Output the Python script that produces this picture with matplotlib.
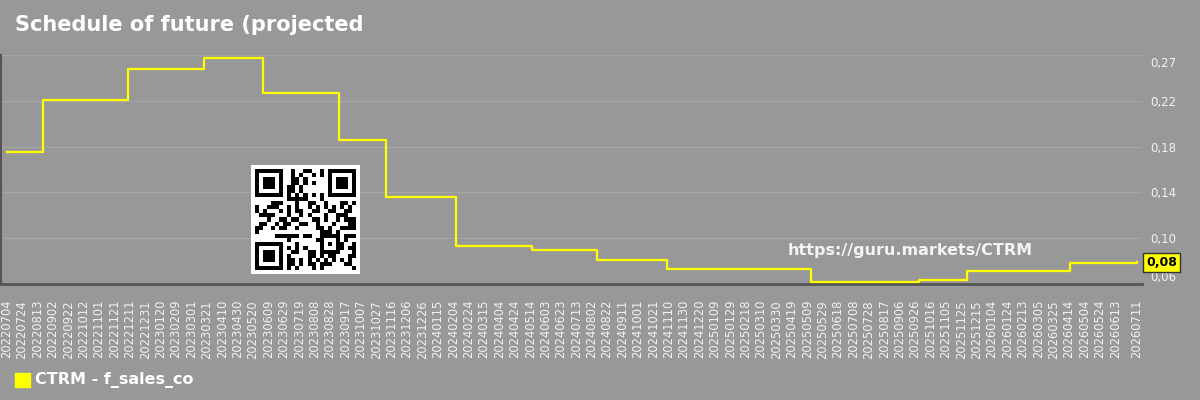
import numpy as np
import matplotlib
matplotlib.use("Agg")
import matplotlib.pyplot as plt
import matplotlib.transforms as mtransforms
from matplotlib.patches import Rectangle
import datetime as dt

# ---- data ----
step_dates = ["2022-07-04", "2022-08-20", "2022-12-09", "2023-03-17", "2023-06-02",
              "2023-09-09", "2023-11-09", "2024-02-08", "2024-05-16", "2024-08-09",
              "2024-11-08", "2025-05-14", "2025-10-01", "2025-12-03", "2026-04-16",
              "2026-06-03", "2026-07-11"]
step_values = [0.1763, 0.2242, 0.2527, 0.2625, 0.2309,
               0.1873, 0.1356, 0.0906, 0.0864, 0.0772,
               0.0690, 0.0576, 0.0592, 0.0677, 0.0745,
               0.0752, 0.0755]
y_tick_labels = ["0,06", "0,10", "0,14", "0,18", "0,22", "0,27"]
last_label = "0,08"
series_name = "CTRM - f_sales_co"
title = "Schedule of future (projected"
watermark = "https://guru.markets/CTRM"
y_min, y_max = 0.0555, 0.2655

BG = "#989898"
YEL = "#ffff00"

dates = [dt.datetime.strptime(d, "%Y-%m-%d") for d in step_dates]
start, end = dates[0], dates[-1]
tick_dates = []
d = start
while d < end - dt.timedelta(days=20):
    tick_dates.append(d)
    d += dt.timedelta(days=20)
tick_dates.append(end)

fig = plt.figure(figsize=(12, 4), dpi=100, facecolor=BG)
ax = fig.add_axes([1/1200, 1-284/400, 1141/1200, 229/400])
ax.set_facecolor(BG)

ax.step(dates, step_values, where="post", color=YEL, lw=1.6, zorder=3)

ax.set_xlim(start - dt.timedelta(days=7.4), end + dt.timedelta(days=6.9))
ax.set_ylim(y_min, y_max)

yt = np.linspace(y_min, y_max, len(y_tick_labels))
ax.set_yticks(yt)
ax.set_yticklabels(y_tick_labels)
ax.yaxis.tick_right()
ax.tick_params(axis="y", length=0, pad=6, labelsize=8.5, labelcolor="#f2f2f2")
tl = ax.get_yticklabels()
tl[0].set_va("bottom")
tl[-1].set_va("center")
tl[-1].set_transform(tl[-1].get_transform() +
                     mtransforms.ScaledTranslation(0, -9/100, fig.dpi_scale_trans))

ax.set_xticks(tick_dates)
ax.set_xticklabels([t.strftime("%Y%m%d") for t in tick_dates], rotation=90)
ax.tick_params(axis="x", length=0, pad=11.5, labelsize=8.3, labelcolor="#f2f2f2")
for lbl in ax.get_xticklabels():
    lbl.set_va("top")

ax.grid(axis="y", color="#a6a6a6", lw=1.0, zorder=1)
ax.grid(axis="x", visible=False)
for s in ["top", "right"]:
    ax.spines[s].set_visible(False)
ax.spines["left"].set_color("#555555")
ax.spines["left"].set_linewidth(1.5)
ax.spines["bottom"].set_color("#555555")
ax.spines["bottom"].set_linewidth(2)

# title
fig.text(15/1200, 1-25/400, title, color="white", fontsize=15, fontweight="bold",
         ha="left", va="center")

# watermark
fig.text(788/1200, 1-250/400, watermark, color="#f4f4f4", fontsize=11.5,
         fontweight="bold", ha="left", va="center")

# last value label
ax.annotate(last_label, xy=(1.0, step_values[-1]), xycoords=("axes fraction", "data"),
            xytext=(3, 0), textcoords="offset points", ha="left", va="center",
            fontsize=9, fontweight="bold", color="black", annotation_clip=False,
            bbox=dict(boxstyle="square,pad=0.25", fc=YEL, ec="#333333", lw=1))

# legend
fig.patches.append(Rectangle((15/1200, 1-387/400), 15/1200, 14/400,
                             transform=fig.transFigure, color=YEL))
fig.text(35/1200, 1-380/400, series_name, color="white", fontsize=11.5,
         fontweight="bold", ha="left", va="center")

# QR-like decoration
n = 25
ii, jj = np.meshgrid(np.arange(n), np.arange(n), indexing="ij")
h = (ii * 73856093) ^ (jj * 19349663) ^ (ii * jj * 83492791)
qr = ((h >> 3) % 7 < 3).astype(float)
def finder(r, c):
    qr[max(r-1, 0):min(r+8, n), max(c-1, 0):min(c+8, n)] = 0
    qr[r:r+7, c:c+7] = 1
    qr[r+1:r+6, c+1:c+6] = 0
    qr[r+2:r+5, c+2:c+5] = 1
finder(0, 0)
finder(0, n-7)
finder(n-7, 0)
qr[6, 8:n-8] = np.arange(8, n-8) % 2 == 0
qr[8:n-8, 6] = np.arange(8, n-8) % 2 == 0
qr[16:21, 16:21] = 1
qr[17:20, 17:20] = 0
qr[18, 18] = 1
qax = fig.add_axes([250/1200, 1-274/400, 110/1200, 109/400])
qax.set_facecolor("white")
qax.imshow(qr, cmap="gray_r", interpolation="nearest",
           extent=(0, n, n, 0))
qax.set_xlim(-1, n+1)
qax.set_ylim(n+1, -1)
qax.set_xticks([]); qax.set_yticks([])
for s in qax.spines.values():
    s.set_visible(False)

fig.savefig("out.png", dpi=100, facecolor=BG)
